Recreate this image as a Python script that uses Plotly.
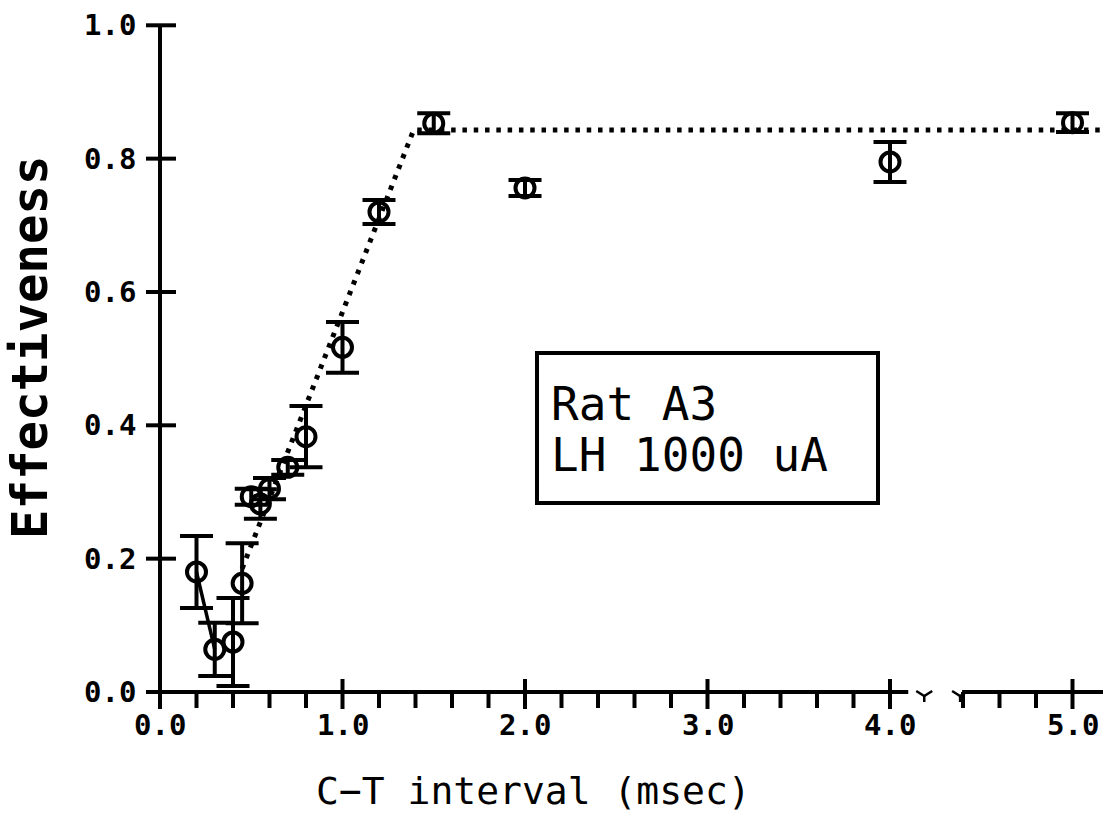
import plotly.graph_objects as go

# ---------------- data ----------------
ct_interval = [0.2, 0.3, 0.4, 0.45, 0.5, 0.55, 0.6, 0.7, 0.8, 1.0, 1.2, 1.5, 2.0, 4.0, 5.0]
effectiveness = [0.18, 0.064, 0.075, 0.163, 0.293, 0.282, 0.305, 0.337, 0.383, 0.517, 0.72, 0.853, 0.756, 0.795, 0.854]
sem = [0.054, 0.04, 0.066, 0.06, 0.012, 0.022, 0.016, 0.011, 0.046, 0.038, 0.018, 0.015, 0.012, 0.03, 0.014]

solid_x = [0.2, 0.3]
solid_y = [0.18, 0.064]

fit_x = [0.45, 1.39, 5.3]
fit_y = [0.185, 0.843, 0.843]

x_ticks = [0, 1, 2, 3, 4, 5]
x_tick_text = ["0.0", "1.0", "2.0", "3.0", "4.0", "5.0"]
x_minor = [0.2, 0.4, 0.6, 0.8, 1.2, 1.4, 1.6, 1.8, 2.2, 2.4, 2.6, 2.8,
           3.2, 3.4, 3.6, 3.8, 4.4, 4.6, 4.8]
y_ticks = [0.0, 0.2, 0.4, 0.6, 0.8, 1.0]
y_tick_text = ["0.0", "0.2", "0.4", "0.6", "0.8", "1.0"]

axis_break = [4.1, 4.395]   # x-axis is broken between these values

# ---------------- layout geometry ----------------
W, H = 1103, 838
X0_PX, PX_PER_X = 160.0, 182.5     # pixel of x=0, pixels per msec
Y0_PX, PX_PER_Y = 692.0, 666.7     # pixel of y=0, pixels per unit

def dx(px):
    return px / PX_PER_X

def dy(px):
    return px / PX_PER_Y

x_range = [-X0_PX / PX_PER_X, (W - X0_PX) / PX_PER_X]
y_range = [-(H - Y0_PX) / PX_PER_Y, Y0_PX / PX_PER_Y]

fig = go.Figure()

# fitted dotted line
fig.add_trace(go.Scatter(
    x=fit_x, y=fit_y, mode="lines",
    line=dict(color="black", width=5, dash="4.5px,6.8px"),
    hoverinfo="skip", showlegend=False))

# solid segment
fig.add_trace(go.Scatter(
    x=solid_x, y=solid_y, mode="lines",
    line=dict(color="black", width=3.5),
    hoverinfo="skip", showlegend=False))

# data with error bars
fig.add_trace(go.Scatter(
    x=ct_interval, y=effectiveness, mode="markers",
    marker=dict(symbol="circle-open", size=19, color="black",
                line=dict(color="black", width=4)),
    error_y=dict(type="data", array=sem, visible=True,
                 color="black", thickness=4, width=16.5),
    showlegend=False))

shapes = []
AX_W = 4
# y axis
shapes.append(dict(type="line", xref="x", yref="y", x0=0, x1=0, y0=0, y1=1.0,
                   line=dict(color="black", width=AX_W)))
# x axis (broken)
shapes.append(dict(type="line", xref="x", yref="y", x0=0, x1=axis_break[0], y0=0, y1=0,
                   line=dict(color="black", width=AX_W)))
shapes.append(dict(type="line", xref="x", yref="y", x0=axis_break[1], x1=x_range[1] + 0.1,
                   y0=0, y1=0, line=dict(color="black", width=AX_W)))
# break marks
for cx in [axis_break[0] + dx(16), axis_break[1] - dx(2)]:
    shapes.append(dict(type="path", xref="x", yref="y",
                       path=(f"M {cx - dx(8)} {dy(1)} L {cx} {-dy(4)} L {cx + dx(8)} {dy(1)}"),
                       line=dict(color="black", width=2.5)))
    shapes.append(dict(type="line", xref="x", yref="y",
                       x0=cx, x1=cx, y0=-dy(4), y1=-dy(10),
                       line=dict(color="black", width=2.5)))
# x major ticks (crossing)
for xv in x_ticks:
    shapes.append(dict(type="line", xref="x", yref="y", x0=xv, x1=xv,
                       y0=-dy(17), y1=dy(13), line=dict(color="black", width=AX_W)))
# x minor ticks (below)
for xv in x_minor:
    shapes.append(dict(type="line", xref="x", yref="y", x0=xv, x1=xv,
                       y0=-dy(16), y1=0, line=dict(color="black", width=AX_W)))
# y ticks (crossing)
for yv in y_ticks:
    shapes.append(dict(type="line", xref="x", yref="y", x0=-dx(14), x1=dx(16),
                       y0=yv, y1=yv, line=dict(color="black", width=AX_W)))
# legend box
shapes.append(dict(type="rect", xref="x", yref="y",
                   x0=dx(537 - X0_PX), x1=dx(878 - X0_PX),
                   y0=dy(Y0_PX - 503), y1=dy(Y0_PX - 353),
                   line=dict(color="black", width=4), fillcolor="rgba(0,0,0,0)"))

annotations = []
TICK_FONT = dict(family="DejaVu Sans Mono", size=29, color="black", weight="bold")
for xv, t in zip(x_ticks, x_tick_text):
    annotations.append(dict(x=xv, y=-dy(33), xref="x", yref="y", text=t,
                            showarrow=False, xanchor="center", yanchor="middle",
                            font=TICK_FONT))
for yv, t in zip(y_ticks, y_tick_text):
    annotations.append(dict(x=-dx(22), y=yv, xref="x", yref="y", text=t,
                            showarrow=False, xanchor="right", yanchor="middle",
                            font=TICK_FONT))
# axis titles
annotations.append(dict(x=dx(533 - X0_PX), y=-dy(791 - Y0_PX), xref="x", yref="y",
                        text="C\u2212T interval (msec)", showarrow=False,
                        xanchor="center", yanchor="middle",
                        font=dict(family="DejaVu Sans Mono", size=38, color="black",
                                  weight=500)))
annotations.append(dict(x=-dx(X0_PX - 30), y=dy(Y0_PX - 347), xref="x", yref="y",
                        text="Effectiveness", showarrow=False, textangle=-90,
                        xanchor="center", yanchor="middle",
                        font=dict(family="DejaVu Sans Mono", size=49, color="black",
                                  weight="bold")))
# box text
BOX_FONT = dict(family="DejaVu Sans Mono", size=46, color="black")
annotations.append(dict(x=dx(549 - X0_PX), y=dy(Y0_PX - 404), xref="x", yref="y",
                        text="Rat A3", showarrow=False, xanchor="left", yanchor="middle",
                        font=BOX_FONT))
annotations.append(dict(x=dx(549 - X0_PX), y=dy(Y0_PX - 455), xref="x", yref="y",
                        text="LH 1000 uA", showarrow=False, xanchor="left", yanchor="middle",
                        font=BOX_FONT))

fig.update_layout(
    width=W, height=H,
    margin=dict(l=0, r=0, t=0, b=0),
    paper_bgcolor="white", plot_bgcolor="white",
    xaxis=dict(range=x_range, visible=False, fixedrange=True),
    yaxis=dict(range=y_range, visible=False, fixedrange=True),
    shapes=shapes, annotations=annotations,
)

fig.write_html("out.html")
